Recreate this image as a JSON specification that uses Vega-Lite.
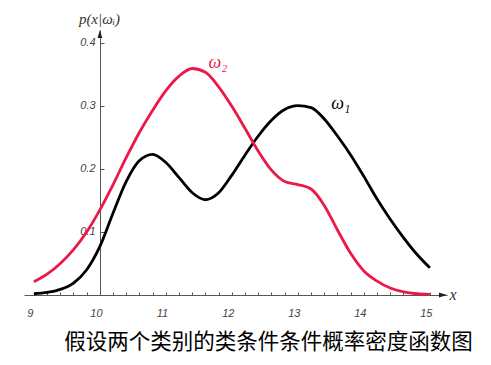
{
  "$schema": "https://vega.github.io/schema/vega-lite/v6.json",
  "width": 423,
  "height": 265,
  "autosize": {"type": "none"},
  "padding": {"left": 24, "top": 30, "right": 44, "bottom": 70},
  "background": "white",
  "config": {"view": {"stroke": null}},
  "title": {
    "text": "假设两个类别的类条件条件概率密度函数图",
    "orient": "bottom",
    "anchor": "middle",
    "font": "Noto Sans CJK SC",
    "fontSize": 21.5,
    "fontWeight": "normal",
    "color": "#000000",
    "dx": 33,
    "offset": 14
  },
  "datasets": {
    "curves": [
      {"x": 9.0, "y": 0.002, "s": "ω1"},
      {"x": 9.2, "y": 0.004, "s": "ω1"},
      {"x": 9.4, "y": 0.009, "s": "ω1"},
      {"x": 9.6, "y": 0.019, "s": "ω1"},
      {"x": 9.8, "y": 0.040, "s": "ω1"},
      {"x": 10.0, "y": 0.077, "s": "ω1"},
      {"x": 10.2, "y": 0.130, "s": "ω1"},
      {"x": 10.4, "y": 0.180, "s": "ω1"},
      {"x": 10.6, "y": 0.213, "s": "ω1"},
      {"x": 10.8, "y": 0.223, "s": "ω1"},
      {"x": 11.0, "y": 0.210, "s": "ω1"},
      {"x": 11.2, "y": 0.186, "s": "ω1"},
      {"x": 11.4, "y": 0.162, "s": "ω1"},
      {"x": 11.6, "y": 0.151, "s": "ω1"},
      {"x": 11.8, "y": 0.162, "s": "ω1"},
      {"x": 12.0, "y": 0.190, "s": "ω1"},
      {"x": 12.2, "y": 0.222, "s": "ω1"},
      {"x": 12.4, "y": 0.252, "s": "ω1"},
      {"x": 12.6, "y": 0.277, "s": "ω1"},
      {"x": 12.8, "y": 0.294, "s": "ω1"},
      {"x": 13.0, "y": 0.300, "s": "ω1"},
      {"x": 13.2, "y": 0.297, "s": "ω1"},
      {"x": 13.4, "y": 0.279, "s": "ω1"},
      {"x": 13.6, "y": 0.252, "s": "ω1"},
      {"x": 13.8, "y": 0.222, "s": "ω1"},
      {"x": 14.0, "y": 0.188, "s": "ω1"},
      {"x": 14.2, "y": 0.152, "s": "ω1"},
      {"x": 14.4, "y": 0.120, "s": "ω1"},
      {"x": 14.6, "y": 0.091, "s": "ω1"},
      {"x": 14.8, "y": 0.065, "s": "ω1"},
      {"x": 15.0, "y": 0.043, "s": "ω1"},
      {"x": 9.0, "y": 0.021, "s": "ω2"},
      {"x": 9.2, "y": 0.033, "s": "ω2"},
      {"x": 9.4, "y": 0.050, "s": "ω2"},
      {"x": 9.6, "y": 0.072, "s": "ω2"},
      {"x": 9.8, "y": 0.100, "s": "ω2"},
      {"x": 10.0, "y": 0.135, "s": "ω2"},
      {"x": 10.2, "y": 0.175, "s": "ω2"},
      {"x": 10.4, "y": 0.218, "s": "ω2"},
      {"x": 10.6, "y": 0.258, "s": "ω2"},
      {"x": 10.8, "y": 0.293, "s": "ω2"},
      {"x": 11.0, "y": 0.324, "s": "ω2"},
      {"x": 11.2, "y": 0.347, "s": "ω2"},
      {"x": 11.4, "y": 0.359, "s": "ω2"},
      {"x": 11.6, "y": 0.353, "s": "ω2"},
      {"x": 11.8, "y": 0.330, "s": "ω2"},
      {"x": 12.0, "y": 0.299, "s": "ω2"},
      {"x": 12.2, "y": 0.264, "s": "ω2"},
      {"x": 12.4, "y": 0.228, "s": "ω2"},
      {"x": 12.6, "y": 0.198, "s": "ω2"},
      {"x": 12.8, "y": 0.180, "s": "ω2"},
      {"x": 13.0, "y": 0.175, "s": "ω2"},
      {"x": 13.2, "y": 0.168, "s": "ω2"},
      {"x": 13.4, "y": 0.142, "s": "ω2"},
      {"x": 13.6, "y": 0.103, "s": "ω2"},
      {"x": 13.8, "y": 0.066, "s": "ω2"},
      {"x": 14.0, "y": 0.038, "s": "ω2"},
      {"x": 14.2, "y": 0.022, "s": "ω2"},
      {"x": 14.4, "y": 0.011, "s": "ω2"},
      {"x": 14.6, "y": 0.005, "s": "ω2"},
      {"x": 14.8, "y": 0.002, "s": "ω2"},
      {"x": 15.0, "y": 0.001, "s": "ω2"}
    ],
    "labels": [
      {"x": 11.79, "y": 0.368, "t": "ω₂", "s": "ω2"},
      {"x": 13.65, "y": 0.302, "t": "ω₁", "s": "ω1"}
    ],
    "arrows": [
      {"x": 15.26, "y": 0, "d": "r"},
      {"x": 10, "y": 0.42, "d": "u"}
    ]
  },
  "resolve": {"axis": {"x": "independent"}},
  "layer": [
    {
      "data": {"name": "curves"},
      "mark": {"type": "line", "strokeWidth": 2.8, "interpolate": "monotone"},
      "encoding": {
        "x": {
          "field": "x", "type": "quantitative",
          "scale": {"domain": [8.85, 15.26], "nice": false, "zero": false},
          "axis": {
            "orient": "bottom",
            "values": [9, 10, 11, 12, 13, 14, 15],
            "format": "d",
            "grid": false,
            "ticks": false,
            "domainColor": "#555555",
            "labelPadding": 12,
            "labelOffset": -4,
            "labelFont": "Liberation Sans",
            "labelFontStyle": "italic",
            "labelFontSize": 11,
            "labelColor": "#444444",
            "labelFlush": false,
            "labelOverlap": false,
            "title": "x",
            "titleFont": "Liberation Serif",
            "titleFontStyle": "italic",
            "titleFontWeight": "normal",
            "titleFontSize": 16,
            "titleColor": "#333333",
            "titleX": 425,
            "titleY": -1,
            "titleAlign": "left",
            "titleBaseline": "middle"
          }
        },
        "y": {
          "field": "y", "type": "quantitative",
          "scale": {"domain": [0, 0.42], "nice": false, "zero": false},
          "axis": {
            "orient": "left",
            "offset": -76,
            "values": [0.1, 0.2, 0.3, 0.4],
            "format": ".1f",
            "grid": false,
            "tickSize": -4,
            "tickColor": "#555555",
            "domainColor": "#555555",
            "labelPadding": 9,
            "labelFont": "Liberation Sans",
            "labelFontStyle": "italic",
            "labelFontSize": 11,
            "labelColor": "#444444",
            "title": "p(x|ωᵢ)",
            "titleAngle": 0,
            "titleFont": "Liberation Serif",
            "titleFontStyle": "italic",
            "titleFontWeight": "normal",
            "titleFontSize": 15,
            "titleColor": "#333333",
            "titleX": -1,
            "titleY": -12,
            "titleAlign": "center",
            "titleBaseline": "middle"
          }
        },
        "color": {
          "field": "s", "type": "nominal",
          "scale": {"domain": ["ω1", "ω2"], "range": ["#000000", "#ec1848"]},
          "legend": null
        }
      }
    },
    {
      "data": {"name": "labels"},
      "mark": {"type": "text", "font": "Liberation Serif", "fontStyle": "italic", "fontSize": 18, "align": "center", "baseline": "middle"},
      "encoding": {
        "x": {"field": "x", "type": "quantitative", "axis": null},
        "y": {"field": "y", "type": "quantitative"},
        "text": {"field": "t"},
        "color": {"field": "s", "type": "nominal", "legend": null}
      }
    },
    {
      "data": {"name": "arrows"},
      "mark": {"type": "point", "filled": true, "opacity": 1, "size": 64, "color": "#222222"},
      "encoding": {
        "x": {
          "field": "x", "type": "quantitative",
          "axis": {
            "orient": "bottom",
            "values": [9, 9.2, 9.4, 9.6, 9.8, 10, 10.2, 10.4, 10.6, 10.8, 11, 11.2, 11.4, 11.6, 11.8, 12, 12.2, 12.4, 12.6, 12.8, 13, 13.2, 13.4, 13.6, 13.8, 14, 14.2, 14.4, 14.6, 14.8, 15],
            "labels": false,
            "domain": false,
            "grid": false,
            "tickSize": -3,
            "tickColor": "#555555",
            "title": null
          }
        },
        "y": {"field": "y", "type": "quantitative"},
        "shape": {
          "field": "d", "type": "nominal",
          "scale": {"domain": ["r", "u"], "range": ["M0,0L-2,-0.6L-2,0.6Z", "M0,0L-0.6,2L0.6,2Z"]},
          "legend": null
        }
      }
    }
  ]
}
